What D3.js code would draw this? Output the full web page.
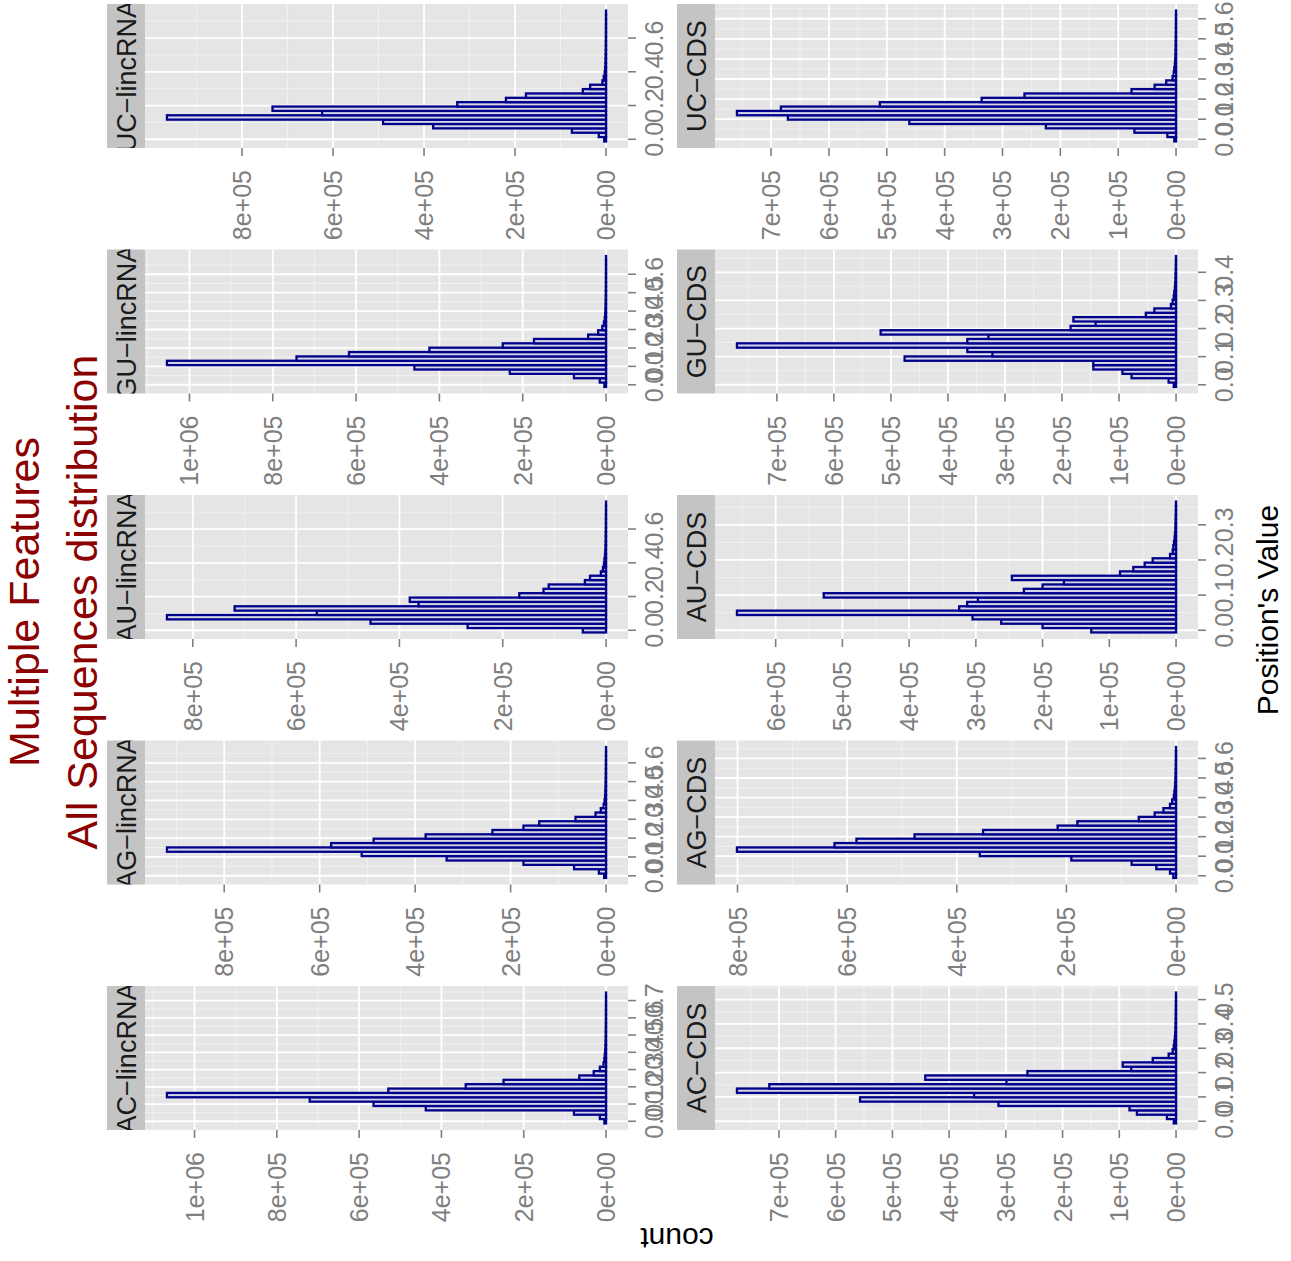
<!DOCTYPE html>
<html>
<head>
<meta charset="utf-8">
<script src="https://d3js.org/d3.v7.min.js"></script>
<style>
body { margin: 0; background: #fff; }
text { font-family: "Liberation Sans", Arial, sans-serif; }
</style>
</head>
<body>
<div id="graph_container"></div>
<script>
// histogram counts, 30 bins each, first bin is centred on 0
const acLinc = [4000,15000,78000,438000,565000,720000,1067000,529000,341000,249000,65000,30000,15000,6000,4000,3000,2000,1500,1000,800,600,500,400,300,250,200,150,100,80,50];
const agLinc = [4000,15000,67000,173000,334000,512000,920000,576000,487000,378000,238000,173000,140000,64000,22000,11000,5000,3000,2000,1500,1000,800,600,500,400,300,200,150,100,50];
const auLinc = [45000,268000,456000,850000,560000,719000,363000,380000,168000,121000,111000,41000,31000,10000,6000,4000,3000,2000,1500,1000,800,600,500,400,300,250,200,150,100,50];
const guLinc = [4000,15000,77000,231000,460000,1054000,743000,617000,424000,248000,173000,43000,19000,9000,5000,3000,2000,1500,1000,800,600,500,400,300,250,200,150,100,80,50];
const ucLinc = [4000,16000,75000,380000,490000,965000,624000,733000,327000,220000,176000,51000,35000,8000,5000,3000,2000,1500,1000,800,600,500,400,300,250,200,150,100,80,50];

const acCds = [4000,16000,69000,82000,313000,557000,356000,774000,717000,299000,442000,262000,79000,94000,41000,13000,6000,4000,3000,2000,1500,1000,800,600,500,400,300,200,150,100];
const agCds = [5000,11000,36000,81000,191000,358000,801000,623000,583000,477000,352000,216000,180000,68000,39000,23000,11000,7000,4000,3000,2000,1500,1000,800,600,400,300,200,150,100];
const auCds = [127000,200000,262000,305000,658000,325000,313000,297000,528000,228000,200000,168000,246000,84000,64000,47000,35000,9000,5000,4000,3000,2000,1500,1000,800,600,400,300,200,100];
const guCds = [4000,13000,78000,94000,145000,145000,476000,322000,366000,770000,366000,329000,518000,185000,141000,180000,53000,38000,9000,6000,4000,3000,2000,1500,1000,800,500,300,200,100];
const ucCds = [3000,15000,72000,225000,461000,671000,759000,683000,512000,336000,262000,77000,37000,17000,6000,4000,3000,2000,1500,1000,800,600,500,400,300,250,200,150,100,50];

const features = ['AC', 'AG', 'AU', 'GU', 'UC'];
const types = ['lincRNA', 'CDS'];

const linc_counts = [acLinc, agLinc, auLinc, guLinc, ucLinc];
const cds_counts = [acCds, agCds, auCds, guCds, ucCds];

// largest position value of each facet (centre of the last bin)
const linc_posmax = [0.734, 0.672, 0.75, 0.687, 0.75];
const cds_posmax = [0.52, 0.647, 0.36, 0.45, 0.63];

const linc_posticks = [
  [0, 0.1, 0.2, 0.3, 0.4, 0.5, 0.6, 0.7],
  [0, 0.1, 0.2, 0.3, 0.4, 0.5, 0.6],
  [0, 0.2, 0.4, 0.6],
  [0, 0.1, 0.2, 0.3, 0.4, 0.5, 0.6],
  [0, 0.2, 0.4, 0.6]
];
const cds_posticks = [
  [0, 0.1, 0.2, 0.3, 0.4, 0.5],
  [0, 0.1, 0.2, 0.3, 0.4, 0.5, 0.6],
  [0, 0.1, 0.2, 0.3],
  [0, 0.1, 0.2, 0.3, 0.4],
  [0, 0.1, 0.2, 0.3, 0.4, 0.5, 0.6]
];

const linc_countticks = [
  [0, 2e5, 4e5, 6e5, 8e5, 1e6],
  [0, 2e5, 4e5, 6e5, 8e5],
  [0, 2e5, 4e5, 6e5, 8e5],
  [0, 2e5, 4e5, 6e5, 8e5, 1e6],
  [0, 2e5, 4e5, 6e5, 8e5]
];
const cds_countticks = [
  [0, 1e5, 2e5, 3e5, 4e5, 5e5, 6e5, 7e5],
  [0, 2e5, 4e5, 6e5, 8e5],
  [0, 1e5, 2e5, 3e5, 4e5, 5e5, 6e5],
  [0, 1e5, 2e5, 3e5, 4e5, 5e5, 6e5, 7e5],
  [0, 1e5, 2e5, 3e5, 4e5, 5e5, 6e5, 7e5]
];

const title1 = 'Multiple Features';
const title2 = 'All Sequences distribution';

// ---- drawing ----
// the plot is built upright (1261 wide, 1291 tall) and then turned a quarter to the left
const W0 = 1261, H0 = 1291;
const svg = d3.select('#graph_container').append('svg')
  .attr('width', H0).attr('height', W0);
const g = svg.append('g').attr('transform', 'translate(0,' + W0 + ') rotate(-90)');

const rows = {
  lincRNA: { stripTop: 107, counts: linc_counts, posmax: linc_posmax, posticks: linc_posticks, countticks: linc_countticks },
  CDS: { stripTop: 677, counts: cds_counts, posmax: cds_posmax, posticks: cds_posticks, countticks: cds_countticks }
};
const stripH = 38, panelH = 483, panelW = 144, firstLeft = 131, pitch = 245.5;
const axisGrey = '#7f7f7f';

function sci(v) {
  if (v === 0) return '0e+00';
  let e = Math.floor(Math.log10(v) + 1e-9);
  let m = Math.round(v / Math.pow(10, e));
  return m + 'e+' + String(e).padStart(2, '0');
}

function minors(ticks, domain) {
  let step = ticks[1] - ticks[0];
  let out = [];
  for (let t = ticks[0] - step / 2; t <= domain[1]; t += step) {
    if (t >= domain[0]) out.push(t);
  }
  return out;
}

types.forEach(function(type, ti) {
  let row = rows[type];
  let top = row.stripTop + stripH;
  let bottom = top + panelH;

  features.forEach(function(f, fi) {
    let left = firstLeft + fi * pitch;
    let counts = row.counts[fi];
    let M = row.posmax[fi];
    let w = M / 29;
    let cmax = d3.max(counts);

    let x = d3.scaleLinear().domain([-2 * w, M + 2 * w]).range([left, left + panelW]);
    let y = d3.scaleLinear().domain([-0.05 * cmax, 1.05 * cmax]).range([bottom, top]);

    let p = g.append('g').attr('class', 'panel');

    p.append('rect')
      .attr('x', left).attr('y', top).attr('width', panelW).attr('height', panelH)
      .attr('fill', '#e5e5e5');

    // grid
    let xt = row.posticks[fi], yt = row.countticks[fi];
    minors(xt, x.domain()).forEach(function(t) {
      p.append('line').attr('x1', x(t)).attr('x2', x(t)).attr('y1', top).attr('y2', bottom)
        .attr('stroke', '#f2f2f2').attr('stroke-width', 0.9);
    });
    minors(yt, y.domain()).forEach(function(t) {
      p.append('line').attr('x1', left).attr('x2', left + panelW).attr('y1', y(t)).attr('y2', y(t))
        .attr('stroke', '#f2f2f2').attr('stroke-width', 0.9);
    });
    xt.forEach(function(t) {
      p.append('line').attr('x1', x(t)).attr('x2', x(t)).attr('y1', top).attr('y2', bottom)
        .attr('stroke', '#ffffff').attr('stroke-width', 1.8);
    });
    yt.forEach(function(t) {
      p.append('line').attr('x1', left).attr('x2', left + panelW).attr('y1', y(t)).attr('y2', y(t))
        .attr('stroke', '#ffffff').attr('stroke-width', 1.8);
    });

    // histogram bars
    p.selectAll('rect.bar')
      .data(counts)
      .enter()
      .append('rect')
        .attr('class', 'bar')
        .attr('x', function(d, i) { return x((i - 0.5) * w); })
        .attr('width', function(d, i) { return x((i + 0.5) * w) - x((i - 0.5) * w); })
        .attr('y', function(d) { return y(d); })
        .attr('height', function(d) { return y(0) - y(d); })
        .attr('fill', '#d4d4e6')
        .attr('stroke', '#00008b')
        .attr('stroke-width', 2.3);

    // position axis (below the panel)
    xt.forEach(function(t) {
      p.append('line').attr('x1', x(t)).attr('x2', x(t)).attr('y1', bottom).attr('y2', bottom + 8)
        .attr('stroke', axisGrey).attr('stroke-width', 1.6);
      p.append('text').attr('x', x(t)).attr('y', bottom + 35)
        .attr('text-anchor', 'middle').attr('fill', axisGrey)
        .style('font-size', '25px').text(d3.format('.1f')(t));
    });

    // count axis (left of the panel)
    yt.forEach(function(t) {
      p.append('line').attr('x1', left - 8).attr('x2', left).attr('y1', y(t)).attr('y2', y(t))
        .attr('stroke', axisGrey).attr('stroke-width', 1.6);
      p.append('text').attr('x', left - 22).attr('y', y(t))
        .attr('text-anchor', 'end').attr('dominant-baseline', 'central').attr('fill', axisGrey)
        .style('font-size', '25px').text(sci(t));
    });

    // strip
    let cid = 'strip-' + type + '-' + f;
    svg.append('clipPath').attr('id', cid)
      .append('rect').attr('x', left).attr('y', row.stripTop).attr('width', panelW).attr('height', stripH);
    p.append('rect').attr('x', left).attr('y', row.stripTop).attr('width', panelW).attr('height', stripH)
      .attr('fill', '#c4c4c4');
    p.append('text')
      .attr('clip-path', 'url(#' + cid + ')')
      .attr('x', left + panelW / 2).attr('y', row.stripTop + stripH / 2 + 1)
      .attr('text-anchor', 'middle').attr('dominant-baseline', 'central')
      .attr('fill', '#1a1a1a').style('font-size', '27px')
      .text(f + '\u2212' + type);
  });
});

// titles
g.append('text').attr('x', 659).attr('y', 39).attr('text-anchor', 'middle')
  .attr('fill', '#8b0000').style('font-size', '43px').text(title1);
g.append('text').attr('x', 659).attr('y', 97).attr('text-anchor', 'middle')
  .attr('fill', '#8b0000').style('font-size', '43px').text(title2);

g.append('text').attr('x', 651).attr('y', 1278).attr('text-anchor', 'middle')
  .attr('fill', '#000').style('font-size', '30px').text("Position's Value");

g.append('text').attr('transform', 'translate(33,677) rotate(-90)').attr('text-anchor', 'middle')
  .attr('fill', '#000').style('font-size', '30px').text('count');
</script>
</body>
</html>
